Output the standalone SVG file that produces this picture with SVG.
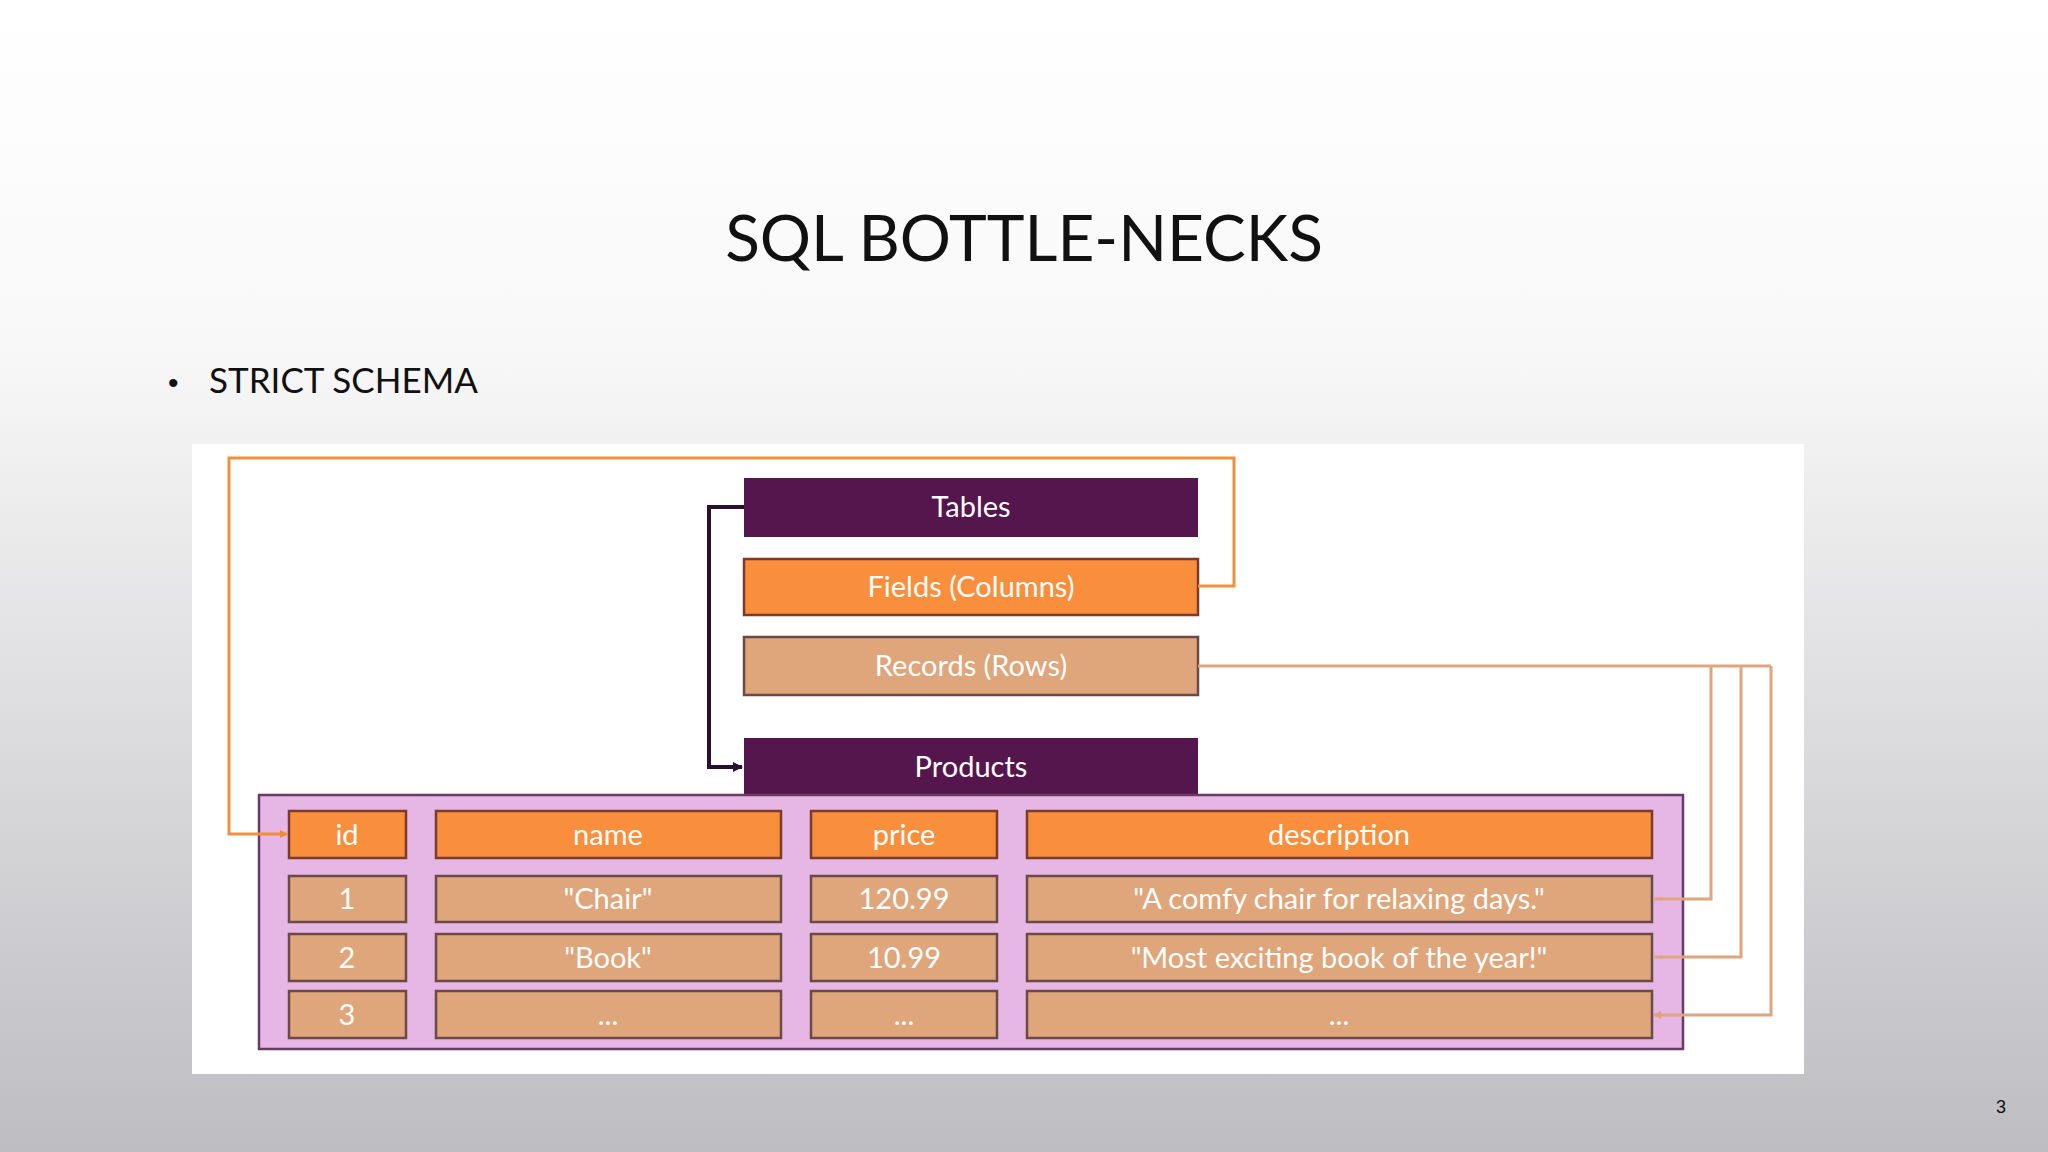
<svg xmlns="http://www.w3.org/2000/svg" width="2048" height="1152" viewBox="0 0 2048 1152">
<defs>
<linearGradient id="bg" x1="0" y1="0" x2="0" y2="1">
<stop offset="0" stop-color="#ffffff"/><stop offset="0.3" stop-color="#f8f8f8"/><stop offset="1" stop-color="#bdbdc2"/>
</linearGradient>
<marker id="ao" markerWidth="8" markerHeight="8" refX="7" refY="4" orient="auto" markerUnits="userSpaceOnUse"><path d="M0,0 L8,4 L0,8 z" fill="#f08a3c"/></marker>
<marker id="at" markerWidth="8" markerHeight="8" refX="7" refY="4" orient="auto" markerUnits="userSpaceOnUse"><path d="M0,0 L8,4 L0,8 z" fill="#e0a07a"/></marker>
<marker id="ak" markerWidth="10" markerHeight="10" refX="9" refY="5" orient="auto" markerUnits="userSpaceOnUse"><path d="M0,0 L10,5 L0,10 z" fill="#2a1030"/></marker>
</defs>
<style>
.t{font-family:"Lato","Liberation Sans",sans-serif;fill:#fff;font-size:29px;text-anchor:middle}
.p{fill:#54164c}
.o{fill:#f98f3c;stroke:#7a3b2a;stroke-width:2.5}
.r{fill:#dfa57b;stroke:#6a4a44;stroke-width:2.5}
</style>
<rect width="2048" height="1152" fill="url(#bg)"/>
<text x="1024" y="261" font-family="Lato,'Liberation Sans',sans-serif" font-size="64" text-anchor="middle" fill="#111">SQL BOTTLE-NECKS</text>
<text x="168" y="393" font-family="'Liberation Sans',sans-serif" font-size="30" fill="#111">•</text>
<text x="209" y="393" font-family="Lato,'Liberation Sans',sans-serif" font-size="35" fill="#111">STRICT SCHEMA</text>
<text x="2001" y="1113" font-family="'Liberation Sans',sans-serif" font-size="18" text-anchor="middle" fill="#111">3</text>
<rect x="192" y="444" width="1612" height="630" fill="#fff"/>
<g id="tables"><rect class="p" x="744" y="478" width="454" height="59"/><text class="t" x="971" y="517">Tables</text></g>
<g id="fields"><rect class="o" x="744" y="559" width="454" height="56"/><text class="t" x="971" y="597">Fields (Columns)</text></g>
<g id="records"><rect class="r" x="744" y="637" width="454" height="58"/><text class="t" x="971" y="676">Records (Rows)</text></g>
<g id="products"><rect class="p" x="744" y="738" width="454" height="59"/><rect x="259" y="795" width="1424" height="254" fill="#e6b6e4" stroke="#6a3a66" stroke-width="2.5"/><text class="t" x="971" y="777">Products</text>
<rect class="o" x="289" y="811" width="117" height="47"/><text class="t" x="347" y="845">id</text>
<rect class="o" x="436" y="811" width="345" height="47"/><text class="t" x="608" y="845">name</text>
<rect class="o" x="811" y="811" width="186" height="47"/><text class="t" x="904" y="845">price</text>
<rect class="o" x="1027" y="811" width="625" height="47"/><text class="t" x="1339" y="845">description</text>
<rect class="r" x="289" y="876" width="117" height="46"/><text class="t" x="347" y="909">1</text>
<rect class="r" x="436" y="876" width="345" height="46"/><text class="t" x="608" y="909">"Chair"</text>
<rect class="r" x="811" y="876" width="186" height="46"/><text class="t" x="904" y="909">120.99</text>
<rect class="r" x="1027" y="876" width="625" height="46"/><text class="t" x="1339" y="909">"A comfy chair for relaxing days."</text>
<rect class="r" x="289" y="934" width="117" height="47"/><text class="t" x="347" y="968">2</text>
<rect class="r" x="436" y="934" width="345" height="47"/><text class="t" x="608" y="968">"Book"</text>
<rect class="r" x="811" y="934" width="186" height="47"/><text class="t" x="904" y="968">10.99</text>
<rect class="r" x="1027" y="934" width="625" height="47"/><text class="t" x="1339" y="968">"Most exciting book of the year!"</text>
<rect class="r" x="289" y="991" width="117" height="47"/><text class="t" x="347" y="1025">3</text>
<rect class="r" x="436" y="991" width="345" height="47"/><text class="t" x="608" y="1025">...</text>
<rect class="r" x="811" y="991" width="186" height="47"/><text class="t" x="904" y="1025">...</text>
<rect class="r" x="1027" y="991" width="625" height="47"/><text class="t" x="1339" y="1025">...</text>
</g>
<g id="connectors" fill="none">
<path d="M1198,586 H1234 V458 H229 V834 H287" stroke="#f0903e" stroke-width="3" marker-end="url(#ao)"/>
<path d="M744,507 H709 V767 H742" stroke="#2a1030" stroke-width="4" marker-end="url(#ak)"/>
<path d="M1198,666 H1771 M1711,666 V899 H1660 M1741,666 V957 H1660 M1771,666 V1015 H1660" stroke="#e0a57e" stroke-width="3"/>
<path d="M1662,899 H1654 M1662,957 H1654 M1662,1015 H1654" stroke="#e0a57e" stroke-width="3" marker-end="url(#at)"/>
</g>
</svg>
